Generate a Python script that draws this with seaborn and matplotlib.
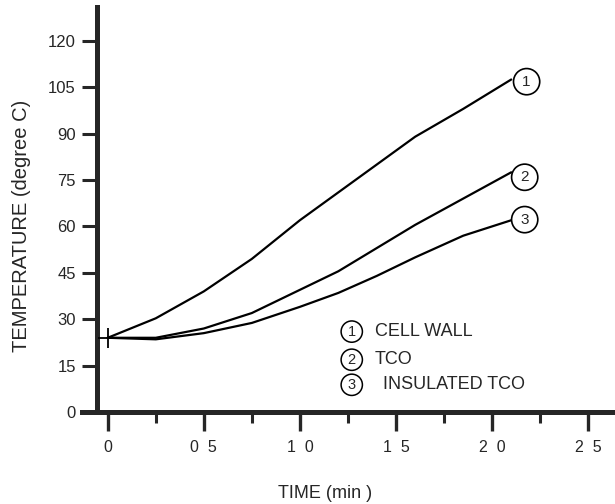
import numpy as np
import pandas as pd
import seaborn as sns
import matplotlib
matplotlib.use("Agg")
import matplotlib.pyplot as plt
from matplotlib.ticker import FixedLocator

# ---- data ----
time_min = [0, 0.25, 0.5, 0.75, 1.0, 1.2, 1.4, 1.6, 1.85, 2.1]
cell_wall = [24, 30.3, 39, 49.5, 62, 71, 80, 89, 98, 107.5]
tco = [24, 24, 27, 32, 39.5, 45.5, 53, 60.5, 69, 77.5]
insulated_tco = [24, 23.5, 25.5, 28.8, 34, 38.5, 44, 50, 57, 62]

series_ids = ["1", "2", "3"]
series_names = ["CELL WALL", "TCO", "INSULATED TCO"]

x_ticks = [0, 0.5, 1.0, 1.5, 2.0, 2.5]
x_tick_labels = ["0", "0  5", "1  0", "1  5", "2  0", "2  5"]
x_minor = [0.25, 0.75, 1.25, 1.75, 2.25]
y_ticks = [0, 15, 30, 45, 60, 75, 90, 105, 120]

df = pd.DataFrame({
    "time": time_min * 3,
    "temp": cell_wall + tco + insulated_tco,
    "series": sum([[s] * len(time_min) for s in series_ids], []),
})

sns.set_style("ticks")
plt.rcParams["font.family"] = ["Liberation Sans", "DejaVu Sans"]

fig = plt.figure(figsize=(6.15, 5.04), dpi=100)
ax = fig.add_axes([0.133, 0.1825, 0.867, 0.804])

sns.lineplot(data=df, x="time", y="temp", hue="series", units="series",
             estimator=None, sort=False,
             palette={s: "black" for s in series_ids}, lw=1.6,
             legend=False, ax=ax)

# starting point cross
ax.plot([time_min[0]], [cell_wall[0]], marker="+", color="black",
        markersize=15, mew=1.3, zorder=5)

ax.set_xlim(-0.135, 2.64)
ax.set_ylim(0, 131)

for sp in ["top", "right"]:
    ax.spines[sp].set_visible(False)
ax.spines["left"].set_position(("data", -0.057))
ax.spines["bottom"].set_position(("data", 0))
ax.spines["left"].set_linewidth(3.6)
ax.spines["bottom"].set_linewidth(3.6)

ax.xaxis.set_major_locator(FixedLocator(x_ticks))
ax.set_xticklabels(x_tick_labels)
ax.xaxis.set_minor_locator(FixedLocator(x_minor))
ax.set_yticks(y_ticks)
ax.set_yticklabels([str(v) for v in y_ticks])

ax.tick_params(axis="x", which="major", direction="out", length=14, width=2.4,
               pad=6, labelsize=11.5)
ax.tick_params(axis="x", which="minor", direction="out", length=8, width=2.2)
ax.tick_params(axis="y", which="major", direction="out", length=11, width=2.2,
               pad=4, labelsize=12)

ax.set_xlabel("TIME (min )", fontsize=13)
ax.xaxis.label.set_va("center")
ax.xaxis.set_label_coords(0.456, -0.2)
ax.set_ylabel("TEMPERATURE (degree C)", fontsize=14.5)
ax.yaxis.label.set_va("center")
ax.yaxis.set_label_coords(-0.114, 0.46)

# circled labels at the line ends
end_pos = [(2.18, 106.8), (2.17, 75.9), (2.17, 62.2)]
for sid, (xx, yy) in zip(series_ids, end_pos):
    ax.text(xx, yy, sid, ha="center", va="center", fontsize=11,
            bbox=dict(boxstyle="circle,pad=0.4", fc="white", ec="black", lw=1.2))

# key
key_y = [26, 16.9, 8.8]
key_text_x = [1.39, 1.39, 1.43]
for sid, name, yy, tx in zip(series_ids, series_names, key_y, key_text_x):
    ax.text(1.27, yy, sid, ha="center", va="center", fontsize=10.5,
            bbox=dict(boxstyle="circle,pad=0.25", fc="white", ec="black", lw=1.1))
    ax.text(tx, yy, name, ha="left", va="center", fontsize=13)

fig.savefig("out.png", dpi=100)
